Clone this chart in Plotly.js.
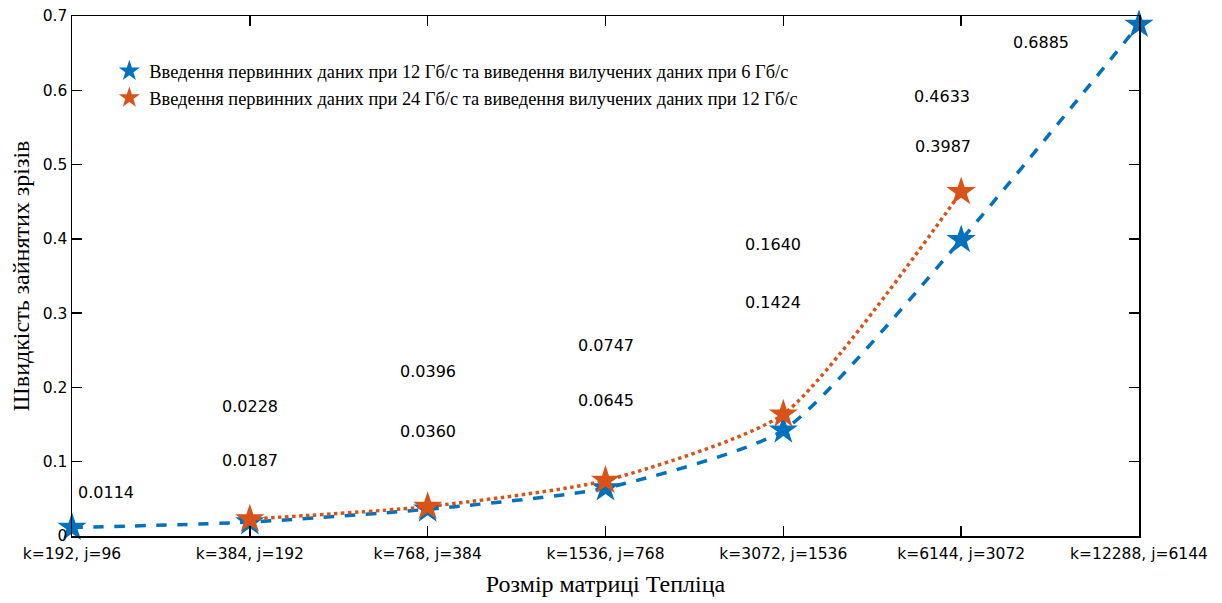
<!DOCTYPE html>
<html>
<head>
<meta charset="utf-8">
<script src="https://cdn.plot.ly/plotly-3.0.1.min.js"></script>
<style>html,body{margin:0;padding:0;background:#fff;}#chart{width:1222px;height:603px;}</style>
</head>
<body>
<div id="chart"></div>
<script>
// ---- data ----
const categories = ["k=192, j=96", "k=384, j=192", "k=768, j=384", "k=1536, j=768", "k=3072, j=1536", "k=6144, j=3072", "k=12288, j=6144"];
const seriesBlueName = "Введення первинних даних при 12 Гб/с та виведення вилучених даних при 6 Гб/с";
const seriesOrangeName = "Введення первинних даних при 24 Гб/с та виведення вилучених даних при 12 Гб/с";
const blueValues = [0.0114, 0.0187, 0.0360, 0.0645, 0.1424, 0.3987, 0.6885];
const orangeCategories = ["k=384, j=192", "k=768, j=384", "k=1536, j=768", "k=3072, j=1536", "k=6144, j=3072"];
const orangeValues = [0.0228, 0.0396, 0.0747, 0.1640, 0.4633];
const yTicks = [0, 0.1, 0.2, 0.3, 0.4, 0.5, 0.6, 0.7];
const yTickText = ["0", "0.1", "0.2", "0.3", "0.4", "0.5", "0.6", "0.7"];

// ---- layout helpers ----
const BLUE = "#0072BD", ORANGE = "#D95319";
const idx = c => categories.indexOf(c);
const xBlue = categories.map((c, i) => i);
const xOrange = orangeCategories.map(idx);

// label placement (x index, y position in data units)
const blueLabelPos = [[0.19, 0.059], [1, 0.101], [2, 0.141], [3, 0.183], [3.94, 0.314], [4.9, 0.524], [5.45, 0.665]];
const orangeLabelPos = [[1, 0.1737], [2, 0.222], [3, 0.256], [3.94, 0.392], [4.89, 0.592]];

const fmt = v => v.toFixed(4);
const annotations = [];
blueValues.forEach((v, i) => annotations.push({x: blueLabelPos[i][0], y: blueLabelPos[i][1], text: fmt(v), showarrow: false, xref: "x", yref: "y", font: {family: "DejaVu Sans", size: 16, color: "#000"}}));
orangeValues.forEach((v, i) => annotations.push({x: orangeLabelPos[i][0], y: orangeLabelPos[i][1], text: fmt(v), showarrow: false, xref: "x", yref: "y", font: {family: "DejaVu Sans", size: 16, color: "#000"}}));

const traces = [
  {x: xBlue, y: blueValues, type: "scatter", mode: "lines+markers", showlegend: false,
   line: {color: BLUE, width: 3.5, dash: "dash", shape: "spline", smoothing: 0.6},
   marker: {symbol: "star", size: 22, color: BLUE, line: {width: 0}}, cliponaxis: false},
  {x: xOrange, y: orangeValues, type: "scatter", mode: "lines+markers", showlegend: false,
   line: {color: ORANGE, width: 3.5, dash: "dot", shape: "spline", smoothing: 0.6},
   marker: {symbol: "star", size: 22, color: ORANGE, line: {width: 0}}, cliponaxis: false},
  {x: [null], y: [null], type: "scatter", mode: "markers", name: seriesBlueName,
   marker: {symbol: "star", size: 22, color: BLUE, line: {width: 0}}},
  {x: [null], y: [null], type: "scatter", mode: "markers", name: seriesOrangeName,
   marker: {symbol: "star", size: 22, color: ORANGE, line: {width: 0}}}
];

const layout = {
  width: 1222, height: 603,
  margin: {l: 72, r: 83, t: 16, b: 67, pad: 0},
  paper_bgcolor: "#fff", plot_bgcolor: "#fff",
  showlegend: true,
  legend: {x: 0.035, y: 0.93, xanchor: "left", yanchor: "top", bgcolor: "rgba(0,0,0,0)",
           font: {family: "Liberation Serif", size: 18.4, color: "#000"}, tracegroupgap: 0},
  xaxis: {range: [0, 6], tickmode: "array", tickvals: xBlue, ticktext: categories,
          showgrid: false, zeroline: false, showline: true, linecolor: "#000", linewidth: 1.5,
          mirror: "allticks", ticks: "inside", ticklen: 10, tickwidth: 1.5, tickcolor: "#000",
          ticklabelstandoff: 3,
          tickfont: {family: "DejaVu Sans", size: 15.5, color: "#000"},
          title: {text: "Розмір матриці Тепліца", font: {family: "Liberation Serif", size: 24, color: "#000"}, standoff: 13}},
  yaxis: {range: [0, 0.7], tickmode: "array", tickvals: yTicks, ticktext: yTickText,
          showgrid: false, zeroline: false, showline: true, linecolor: "#000", linewidth: 1.5,
          mirror: "allticks", ticks: "inside", ticklen: 10, tickwidth: 1.5, tickcolor: "#000",
          tickfont: {family: "DejaVu Sans", size: 15.5, color: "#000"},
          title: {text: "Швидкість зайнятих зрізів", font: {family: "Liberation Serif", size: 24, color: "#000"}, standoff: 6}},
  annotations: annotations
};

Plotly.newPlot("chart", traces, layout, {displayModeBar: false, staticPlot: true});
</script>
</body>
</html>
